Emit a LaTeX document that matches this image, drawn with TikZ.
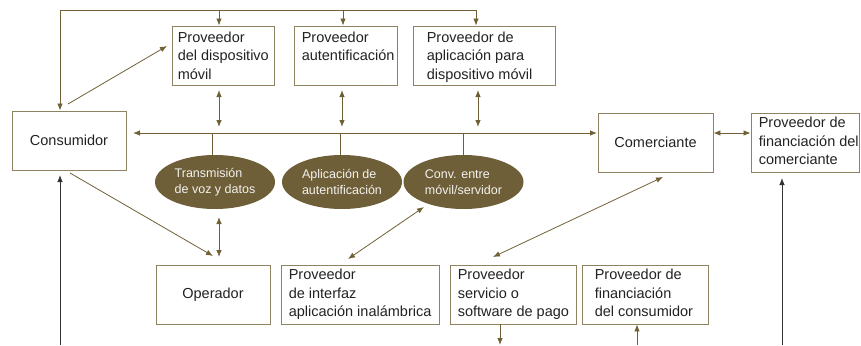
\documentclass[tikz,border=0pt]{standalone}
\usepackage{fontspec}
\setmainfont{Liberation Sans}
\usetikzlibrary{arrows.meta,shapes.geometric}
\definecolor{olive}{HTML}{6F6135}
\definecolor{boxc}{HTML}{8F8260}
\definecolor{ellc}{HTML}{6E5F38}
\definecolor{txtc}{HTML}{222222}
\definecolor{darkc}{HTML}{333333}
\begin{document}
\begin{tikzpicture}[x=1pt,y=-1pt,
  every node/.style={font=\fontsize{14.5}{18.5}\selectfont, text=txtc},
  box/.style={draw=boxc, line width=0.9pt, minimum height=59pt, inner sep=0pt},
  lab/.style={anchor=north west, inner sep=0pt, align=left},
  ell/.style={ellipse, fill=ellc, minimum width=120pt, minimum height=54pt, inner sep=0pt,
    text=white!92!ellc, align=left, font=\fontsize{12.5}{15.5}\selectfont},
  conn/.style={draw=olive, line width=0.8pt, -{Latex[length=7pt,width=5.5pt]}},
  dconn/.style={draw=olive, line width=0.8pt, {Latex[length=7pt,width=5.5pt]}-{Latex[length=7pt,width=5.5pt]}},
  plain/.style={draw=olive, line width=0.8pt},
  dark/.style={draw=darkc, line width=0.8pt, -{Latex[length=7pt,width=5.5pt]}, fill=darkc}
]
\useasboundingbox (0,0) rectangle (861,345);

% boxes
\node[box, minimum width=114pt] (cons) at (69,140.5) {Consumidor};
\node[box, minimum width=102pt] (pdm) at (223,55.5) {};
\node[box, minimum width=103pt] (paut) at (345.5,55.5) {};
\node[box, minimum width=142pt] (papp) at (484,55.5) {};
\node[box, minimum width=115pt] (com) at (655.5,142.5) {Comerciante};
\node[box, minimum width=108pt] (pfc) at (805,142.5) {};
\node[box, minimum width=114pt] (oper) at (213,294.5) {Operador};
\node[box, minimum width=158pt] (pint) at (360,294.5) {};
\node[box, minimum width=126pt] (pser) at (513,294.5) {};
\node[box, minimum width=126pt] (pfcons) at (645,294.5) {};

% box texts
\node[lab] (pdmt) at ([shift={(6,6.2)}]pdm.north west) {Proveedor\\del dispositivo\\móvil};
\node[lab] (pautt) at ([shift={(8,6.2)}]paut.north west) {Proveedor\\autentificación};
\node[lab] (pappt) at ([shift={(14,6.2)}]papp.north west) {Proveedor de\\aplicación para\\dispositivo móvil};
\node[lab] (pfct) at ([shift={(8,4.6)}]pfc.north west) {Proveedor de\\financiación del\\comerciante};
\node[lab] (pintt) at ([shift={(8,4.6)}]pint.north west) {Proveedor\\de interfaz\\aplicación inalámbrica};
\node[lab] (psert) at ([shift={(8,4.6)}]pser.north west) {Proveedor\\servicio o\\software de pago};
\node[lab] (pfconst) at ([shift={(13,4.6)}]pfcons.north west) {Proveedor de\\financiación\\del consumidor};

% ellipses
\node[ell] (e1) at (215,182) {Transmisión\\de voz y datos};
\node[ell] (e2) at (342,182) {Aplicación de\\autentificación};
\node[ell] (e3) at (463.5,182) {Conv. entre\\móvil/servidor};

% coordinates
\coordinate (busL) at (133,133);
\coordinate (busR) at (597,133);
\coordinate (topL) at (60,10);
\coordinate (topR) at (476,10);
\coordinate (botL) at (60,345);
\coordinate (botR) at (782,345);
\coordinate (botS) at (500,345);
\coordinate (botC) at (637,345);

% bus
\draw[dconn] (busL) -- (busR);
\draw[plain] (e1.north -| 212,0) -- (212,133);
\draw[plain] (e2.north -| 340,0) -- (340,133);
\draw[plain] (e3.north -| 463,0) -- (463,133);

% boxes to bus
\draw[dconn] (219,90) -- (219,127);
\draw[dconn] (342,90) -- (342,127);
\draw[dconn] (478,90) -- (478,127);

% top line
\draw[plain] (topR) -- (topL);
\draw[conn] (topL) -- (cons.north -| topL);
\draw[conn] (219,10) -- (pdm.north -| 219,0);
\draw[conn] (343,10) -- (paut.north -| 343,0);
\draw[conn] (topR) -- (papp.north -| topR);

% diagonals
\draw[conn] (68,104) -- (167,46);
\draw[conn] (70,173) -- (213,256);
\draw[dconn] (219,217) -- (219,257);
\draw[dconn] (424,207) -- (348,259);
\draw[dconn] (663,177) -- (493,257);
\draw[dconn] (com.east |- 0,133) -- (pfc.west |- 0,133);

% bottom arrows
\draw[dark] (botL) -- (60,175);
\draw[dark] (botR) -- (782,178);
\draw[conn] (pser.south -| botS) -- (botS);
\draw[conn] (botC) -- (pfcons.south -| botC);
\end{tikzpicture}
\end{document}
